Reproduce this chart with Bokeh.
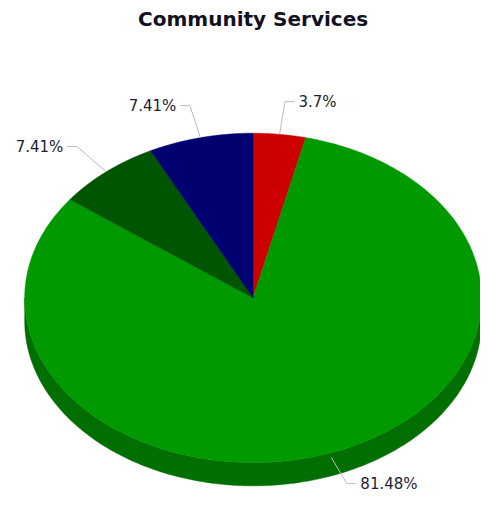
import numpy as np
from bokeh.plotting import figure
from bokeh.models import Range1d
from bokeh.core.properties import value
from bokeh.embed import file_html
from bokeh.resources import INLINE

# ---- data ----
title_text = "Community Services"
counts = [1, 22, 2, 2]
colors = ["#CC0000", "#009900", "#005500", "#000070"]
side_colors = ["#8A0000", "#006E00", "#003A00", "#00004A"]

# ---- geometry (reference pixel coordinates) ----
CX, CY, RX, RY, DEPTH = 261.0, 307.0, 236.0, 170.0, 24.0
ELBOW_R = 1.2
SEG = 10.0
GAP = 4.0

total = float(sum(counts))
fracs = [c / total for c in counts]
labels = []
for f in fracs:
    s = f"{f*100:.2f}".rstrip("0").rstrip(".")
    labels.append(s + "%")

p = figure(width=480, height=496, output_backend="svg", toolbar_location=None,
           x_range=Range1d(0, 496), y_range=Range1d(512, 0),
           x_axis_location=None, y_axis_location=None, min_border=0,
           outline_line_color=None, background_fill_color="white")
p.grid.visible = False


def pt(theta, r=1.0, dy=0.0):
    return CX + r * RX * np.sin(theta), CY - r * RY * np.cos(theta) + dy


starts = np.concatenate([[0.0], np.cumsum(fracs)[:-1]]) * 2 * np.pi
ends = np.cumsum(fracs) * 2 * np.pi

# sides (front half only: theta in [pi/2, 3pi/2])
sx, sy, sc = [], [], []
for a0, a1, c in zip(starts, ends, side_colors):
    lo, hi = max(a0, np.pi / 2), min(a1, 3 * np.pi / 2)
    if hi <= lo:
        continue
    th = np.linspace(lo, hi, 200)
    x1, y1 = pt(th)
    x2, y2 = pt(th[::-1], dy=DEPTH)
    sx.append(list(np.concatenate([x1, x2])))
    sy.append(list(np.concatenate([y1, y2])))
    sc.append(c)
p.patches(sx, sy, fill_color=sc, line_color=sc, line_width=0.5)

# top faces
tx, ty = [], []
for a0, a1 in zip(starts, ends):
    th = np.linspace(a0, a1, 300)
    x, y = pt(th)
    tx.append([CX] + list(x))
    ty.append([CY] + list(y))
p.patches(tx, ty, fill_color=colors, line_color=colors, line_width=0.5)

# labels with connectors
for a0, a1, lab in zip(starts, ends, labels):
    m = (a0 + a1) / 2
    on_front = np.cos(m) < 0
    x0, y0 = pt(m, dy=DEPTH * 0.2 if on_front else 0.0)
    ex, ey = pt(m, r=ELBOW_R)
    right = np.sin(m) >= 0
    hx = ex + SEG if right else ex - SEG
    p.line([x0, ex, hx], [y0, ey, ey], line_color="#BBBBBB", line_width=1)
    p.text([hx + GAP if right else hx - GAP], [ey], text=[lab],
           text_font=value("DejaVu Sans"), text_font_size="15px",
           text_color="#222233", text_baseline="middle",
           text_align="left" if right else "right")

p.text([261], [19], text=[title_text], text_font=value("DejaVu Sans"),
       text_font_size="20px", text_font_style="bold", text_color="#111122",
       text_align="center", text_baseline="middle")

open("out.html", "w").write(file_html(p, INLINE))
